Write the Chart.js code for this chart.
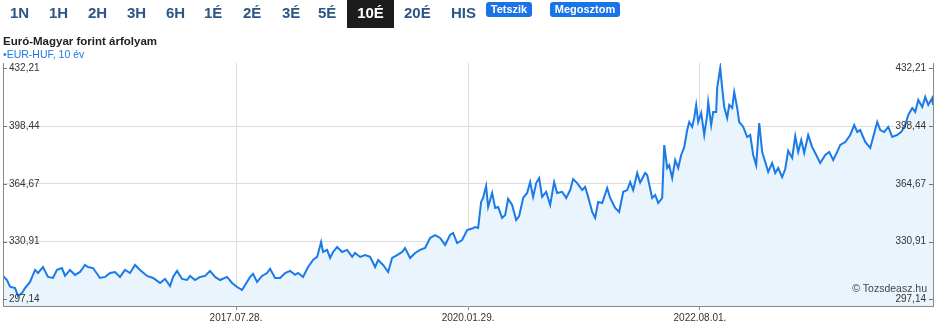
<!DOCTYPE html>
<html><head><meta charset="utf-8">
<script src="https://cdn.jsdelivr.net/npm/chart.js@4/dist/chart.umd.min.js"></script>
<style>
html,body{margin:0;padding:0;background:#fff;}
body{width:946px;height:329px;position:relative;overflow:hidden;font-family:"Liberation Sans",Arial,sans-serif;}
#cv{position:absolute;left:0;top:0;}
.btn{position:absolute;top:0;height:28px;line-height:26px;font-size:15px;font-weight:bold;color:#2c5687;z-index:2;white-space:nowrap;}
.sel{background:#1c1c1c;color:#fff;text-align:center;width:47px;}
.blue{position:absolute;top:2px;height:15px;line-height:15px;font-size:11px;font-weight:bold;color:#fff;background:#1a73e8;border-radius:3px;text-align:center;z-index:2;}
#title{position:absolute;left:3px;top:34px;font-size:11.5px;line-height:14px;font-weight:bold;color:#222;z-index:2;white-space:nowrap;}
#legend{position:absolute;left:3px;top:48px;font-size:10.5px;line-height:12px;color:#1a7ae6;z-index:2;white-space:nowrap;}
#wm{position:absolute;right:19px;top:282px;font-size:10.5px;line-height:12px;color:#444;z-index:2;white-space:nowrap;}
</style></head>
<body>
<canvas id="cv" width="946" height="329"></canvas>
<div class="btn" style="left:10px">1N</div>
<div class="btn" style="left:49px">1H</div>
<div class="btn" style="left:88px">2H</div>
<div class="btn" style="left:127px">3H</div>
<div class="btn" style="left:166px">6H</div>
<div class="btn" style="left:204px">1É</div>
<div class="btn" style="left:243px">2É</div>
<div class="btn" style="left:282px">3É</div>
<div class="btn" style="left:318px">5É</div>
<div class="btn sel" style="left:347px">10É</div>
<div class="btn" style="left:404px">20É</div>
<div class="btn" style="left:451px">HIS</div>
<div class="blue" style="left:486px;width:46px">Tetszik</div>
<div class="blue" style="left:550px;width:70px">Megosztom</div>
<div id="title">Euró-Magyar forint árfolyam</div>
<div id="legend">•EUR-HUF, 10 év</div>
<div id="wm">© Tozsdeasz.hu</div>
<script>
// Dates as fractional years
const years = [
2015.053,2015.096,2015.129,2015.183,2015.215,2015.258,2015.291,2015.345,2015.399,2015.431,
2015.485,2015.539,2015.593,2015.636,2015.690,2015.723,2015.777,2015.831,2015.885,2015.939,
2015.971,2016.025,2016.101,2016.155,2016.209,2016.263,2016.317,2016.371,2016.425,2016.479,
2016.533,2016.609,2016.674,2016.749,2016.803,2016.857,2016.890,2016.933,2016.987,2017.041,
2017.073,2017.127,2017.181,2017.235,2017.289,2017.344,2017.398,2017.473,2017.527,
2017.581,2017.635,2017.668,2017.722,2017.754,2017.797,2017.851,2017.905,2017.938,2017.992,
2018.046,2018.100,2018.154,2018.208,2018.240,2018.294,2018.348,2018.402,2018.446,2018.489,
2018.510,2018.554,2018.586,2018.618,2018.662,2018.716,2018.770,2018.824,2018.856,2018.910,
2018.964,2019.018,2019.072,2019.105,2019.159,2019.213,2019.256,2019.310,2019.364,2019.396,
2019.450,2019.504,2019.558,2019.612,2019.666,2019.720,2019.774,2019.828,2019.882,2019.915,
2019.958,2020.012,2020.066,
2020.120,2020.152,2020.185,2020.217,2020.239,2020.271,2020.293,2020.336,2020.369,2020.401,
2020.444,2020.477,2020.509,2020.552,2020.596,2020.628,2020.671,2020.714,2020.747,2020.779,
2020.812,2020.844,2020.876,2020.920,2020.963,2021.006,2021.038,2021.092,2021.136,2021.179,
2021.211,2021.255,2021.309,2021.341,2021.373,2021.417,2021.449,2021.481,2021.525,2021.579,
2021.611,2021.665,2021.708,2021.752,2021.795,2021.827,2021.860,2021.903,2021.935,
2021.989,2022.011,2022.065,2022.097,2022.130,2022.173,2022.195,2022.227,2022.249,2022.281,
2022.313,2022.346,2022.378,2022.411,2022.443,2022.465,2022.497,2022.519,2022.540,2022.562,
2022.594,2022.627,2022.659,2022.670,2022.702,2022.724,2022.756,2022.767,2022.800,2022.821,
2022.843,2022.875,2022.897,2022.929,2022.951,2022.983,2023.005,2023.048,2023.091,2023.124,
2023.156,2023.188,2023.221,2023.253,2023.286,2023.318,2023.361,2023.394,2023.426,2023.469,
2023.502,2023.534,2023.577,2023.610,2023.642,
2023.675,2023.707,2023.750,2023.793,2023.826,2023.880,2023.934,2023.977,2024.020,2024.063,
2024.096,2024.150,2024.204,2024.247,2024.280,2024.312,2024.366,2024.420,2024.452,2024.496,
2024.528,2024.571,2024.615,2024.658,2024.712,2024.755,2024.798,2024.831,2024.874,2024.906,
2024.939,2024.982,2025.014,2025.047,2025.090,2025.098
];
const eurHuf = [
310.8,308.4,304.5,303.7,299.1,300.8,303.7,307.3,314.3,312.5,
316.0,310.2,309.6,314.3,315.4,310.8,314.3,311.4,313.1,317.2,
316.0,315.4,309.6,310.2,312.5,313.1,310.2,314.3,312.5,317.2,
314.3,310.8,309.6,306.7,309.0,304.9,310.2,313.7,309.0,308.4,
310.8,308.4,310.2,310.8,313.7,310.2,308.4,310.2,306.7,
304.3,302.6,305.5,310.2,312.0,307.3,310.8,312.5,314.9,309.6,
309.6,312.5,313.7,311.4,312.5,310.2,316.0,320.1,321.9,330.6,
324.8,326.0,321.3,324.8,327.7,324.8,326.0,321.9,324.2,321.9,
323.0,321.9,316.0,320.1,317.2,313.1,321.3,323.0,324.8,327.1,
321.3,324.2,326.0,327.1,333.0,334.7,333.0,328.9,334.7,335.9,
330.0,331.8,337.6,
338.5,339.4,338.8,354.0,356.4,363.4,351.1,359.3,350.5,351.1,
344.7,346.4,355.8,352.3,343.5,345.8,356.4,359.3,365.7,357.0,
365.1,368.0,357.0,360.0,352.3,365.7,359.3,360.0,356.4,361.0,
367.4,365.1,361.0,362.8,357.0,348.2,344.7,354.0,353.4,362.2,
356.4,350.5,348.2,360.0,361.0,365.7,361.0,371.0,365.4,
371.0,369.8,356.4,358.1,353.4,356.4,387.3,373.9,375.6,368.0,
378.6,373.9,381.5,386.1,396.1,400.8,397.9,403.2,410.8,400.8,
406.1,393.2,404.9,412.5,399.0,406.7,406.7,420.7,432.4,420.7,
409.6,403.2,410.8,409.0,418.3,409.0,400.8,397.9,392.0,393.2,
381.5,375.6,400.2,383.3,377.4,371.6,376.8,371.0,373.9,368.6,
373.3,384.0,379.8,392.5,383.3,
390.3,382.7,393.2,386.1,382.7,376.8,381.5,383.3,378.6,383.3,
387.4,389.1,393.2,399.0,395.0,396.1,389.1,385.6,392.0,400.8,
396.1,395.0,397.9,392.0,393.2,395.0,399.0,404.9,409.0,406.7,
413.7,409.6,415.5,410.8,414.9,410.8
];
const yTickValues = [297.14, 330.91, 364.67, 398.44, 432.21];
const xTickLabels = ['2017.07.28.', '2020.01.29.', '2022.08.01.'];
const xMin = 2015.053, xMax = 2025.098, yMin = 293.2, yMax = 435.3;

function labelToYear(s){
  const p = s.split('.').map(Number);
  const start = Date.UTC(p[0],0,1), next = Date.UTC(p[0]+1,0,1);
  return p[0] + (Date.UTC(p[0],p[1]-1,p[2]) - start) / (next - start);
}
const xTickYears = xTickLabels.map(labelToYear);
const fmt = v => v.toFixed(2).replace('.', ',');

const innerTicks = {
  id: 'innerTicks',
  afterDraw(chart){
    const ctx = chart.ctx, a = chart.chartArea;
    ctx.save(); ctx.strokeStyle = '#777'; ctx.lineWidth = 1;
    ['y','y2'].forEach(id => {
      const s = chart.scales[id];
      s.ticks.forEach(t => {
        const y = Math.round(s.getPixelForValue(t.value)) + 0.5;
        ctx.beginPath();
        if (id === 'y') { ctx.moveTo(a.left, y); ctx.lineTo(a.left + 4, y); }
        else { ctx.moveTo(a.right - 4, y); ctx.lineTo(a.right, y); }
        ctx.stroke();
      });
    });
    ctx.restore();
  }
};

const tickFont = {family: '"Liberation Sans", Arial, sans-serif', size: 10};
const yAxis = (pos, pad) => ({
  type: 'linear', position: pos, min: yMin, max: yMax,
  afterBuildTicks: s => { s.ticks = yTickValues.map(v => ({value: v})); },
  afterFit: s => { s.width = 0; },
  ticks: {mirror: true, padding: pad, color: '#333', font: tickFont, z: 1, callback: v => fmt(v)},
  grid: pos === 'left' ? {
    drawTicks: false,
    color: c => (c.index === 0 || c.index === yTickValues.length - 1) ? 'rgba(0,0,0,0)' : '#dddddd'
  } : {drawTicks: false, drawOnChartArea: false},
  border: {display: true, color: '#8a8a8a', width: 1, z: 1}
});

new Chart(document.getElementById('cv'), {
  type: 'line',
  data: {
    datasets: [{
      data: years.map((x, i) => ({x: x, y: eurHuf[i]})),
      borderColor: '#1a7ae6', borderWidth: 2, pointRadius: 0, tension: 0,
      fill: 'start', backgroundColor: '#eaf4fd'
    }]
  },
  options: {
    responsive: false, animation: false, devicePixelRatio: 1,
    layout: {padding: {left: 3, right: 13, top: 63, bottom: 0}},
    plugins: {legend: {display: false}, tooltip: {enabled: false}},
    scales: {
      x: {
        type: 'linear', min: xMin, max: xMax,
        afterBuildTicks: s => { s.ticks = xTickYears.map(v => ({value: v})); },
        afterFit: s => { s.height = 23; },
        ticks: {autoSkip: false, maxRotation: 0, padding: 2, color: '#333', font: tickFont,
                callback: (v, i) => xTickLabels[i]},
        grid: {color: '#dddddd', tickLength: 4, tickColor: '#888'},
        border: {display: true, color: '#8a8a8a', width: 1, z: 1}
      },
      y: yAxis('left', 6),
      y2: yAxis('right', -7)
    }
  },
  plugins: [innerTicks]
});
</script>
</body></html>
